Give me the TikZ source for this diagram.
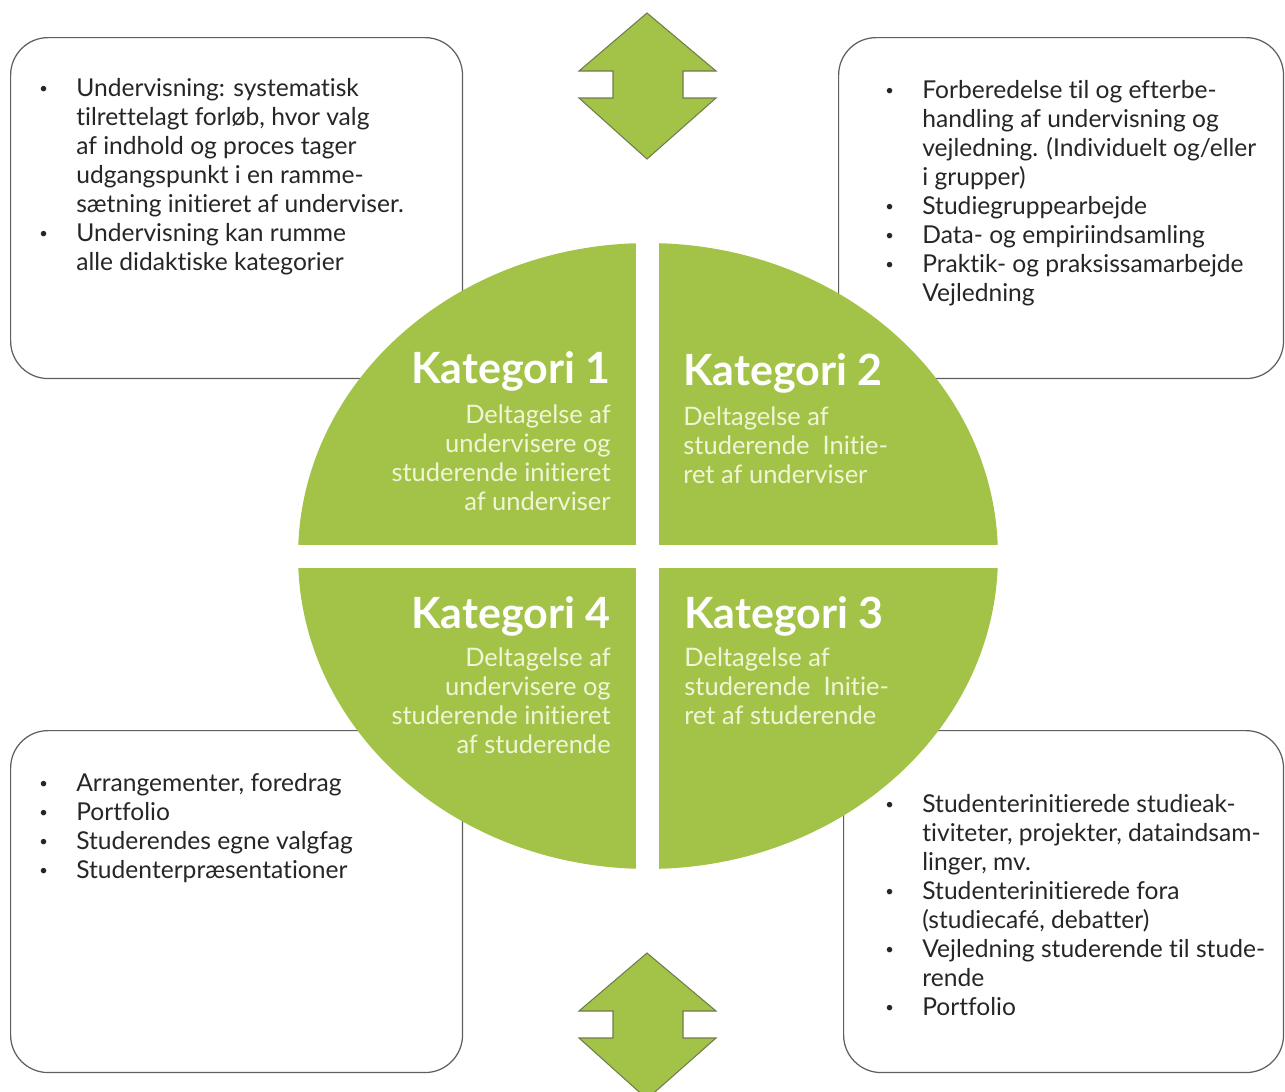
\documentclass[tikz,border=0pt]{standalone}
\usepackage{fontspec}
\setmainfont{Lato}[Ligatures=NoCommon]
\definecolor{katgreen}{RGB}{163,195,72}
\definecolor{katpale}{RGB}{241,245,216}
\definecolor{boxline}{RGB}{95,95,95}
\definecolor{arrowline}{RGB}{110,125,75}
\newcommand{\bulitem}{\makebox[0.74cm][l]{\raisebox{0.12em}{\scalebox{0.6}{\textbullet}}}}
\newcommand{\bulcont}{\hspace*{0.74cm}}
\tikzset{
  panel/.style = {draw=boxline, line width=.7pt, rounded corners=.75cm, fill=white, anchor=north west, inner sep=0pt},
  paneltext/.style = {anchor=north west, inner sep=0pt, align=left, text=black!85, font=\fontsize{14}{16.5}\selectfont},
  kathead/.style = {inner sep=0pt, text=white, font=\fontsize{24.5}{28}\selectfont\bfseries},
  katsub/.style = {inner sep=0pt, text=katpale, font=\fontsize{14.5}{16.5}\selectfont},
  dblarrow/.pic = {\filldraw[fill=katgreen, draw=arrowline, line width=.6pt] (0,0) -- (69,58) -- (36,58) -- (36,85) -- (69,85) -- (0,146) -- (-68,85) -- (-34,85) -- (-34,58) -- (-68,58) -- cycle;}
}
\begin{document}
\begin{tikzpicture}[x = .02cm, y = -.02cm]
	\useasboundingbox (0,0) rectangle (1285,1092);
	% the four panels
	\node (boxTL) [panel, minimum width=9.04cm, minimum height=6.82cm] at (10,37) {};
	\node (boxTR) [panel, minimum width=8.9cm, minimum height=6.82cm] at (838,37) {};
	\node (boxBL) [panel, minimum width=9.04cm, minimum height=6.84cm] at (10,730) {};
	\node (boxBR) [panel, minimum width=8.8cm, minimum height=6.84cm] at (843,730) {};
	% arrows
	\pic at (647,13) {dblarrow};
	\pic at (647,953) {dblarrow};
	% the circle in four parts
	\fill[katgreen] (648,556) ellipse [x radius=7cm, y radius=6.26cm];
	\fill[white] (636,225) rectangle (659,885); %vertical gap
	\fill[white] (285,545) rectangle (1012,568); %horizontal gap
	% categories
	\node (kat1) [kathead, anchor=base east] at (611,383) {Kategori 1};
	\node (kat1txt) [katsub, anchor=north east, align=right] at (611,404) {Deltagelse af\\undervisere og\\studerende initieret\\af underviser};
	\node (kat2) [kathead, anchor=base west] at (683,385) {Kategori 2};
	\node (kat2txt) [katsub, anchor=north west, align=left] at (683,406) {Deltagelse af\\studerende\ \ Initie-\\ret af underviser};
	\node (kat4) [kathead, anchor=base east] at (611,628) {Kategori 4};
	\node (kat4txt) [katsub, anchor=north east, align=right] at (611,647) {Deltagelse af\\undervisere og\\studerende initieret\\af studerende};
	\node (kat3) [kathead, anchor=base west] at (684,628) {Kategori 3};
	\node (kat3txt) [katsub, anchor=north west, align=left] at (684,647) {Deltagelse af\\studerende\ \ Initie-\\ret af studerende};
	% panel texts
	\node (txtTL) [paneltext] at (39,78) {\bulitem Undervisning: systematisk\\
		\bulcont tilrettelagt forløb, hvor valg\\
		\bulcont af indhold og proces tager\\
		\bulcont udgangspunkt i en ramme-\\
		\bulcont sætning initieret af underviser.\\
		\bulitem Undervisning kan rumme\\
		\bulcont alle didaktiske kategorier};
	\node (txtTR) [paneltext] at (885,80) {\bulitem Forberedelse til og efterbe-\\
		\bulcont handling af undervisning og\\
		\bulcont vejledning. (Individuelt og/eller\\
		\bulcont i grupper)\\
		\bulitem Studiegruppearbejde\\
		\bulitem Data- og empiriindsamling\\
		\bulitem Praktik- og praksissamarbejde\\
		\bulcont Vejledning};
	\node (txtBL) [paneltext] at (39,773) {\bulitem Arrangementer, foredrag\\
		\bulitem Portfolio\\
		\bulitem Studerendes egne valgfag\\
		\bulitem Studenterpræsentationer};
	\node (txtBR) [paneltext] at (885,794) {\bulitem Studenterinitierede studieak-\\
		\bulcont tiviteter, projekter, dataindsam-\\
		\bulcont linger, mv.\\
		\bulitem Studenterinitierede fora\\
		\bulcont (studiecafé, debatter)\\
		\bulitem Vejledning studerende til stude-\\
		\bulcont rende\\
		\bulitem Portfolio};
\end{tikzpicture}
\end{document}
